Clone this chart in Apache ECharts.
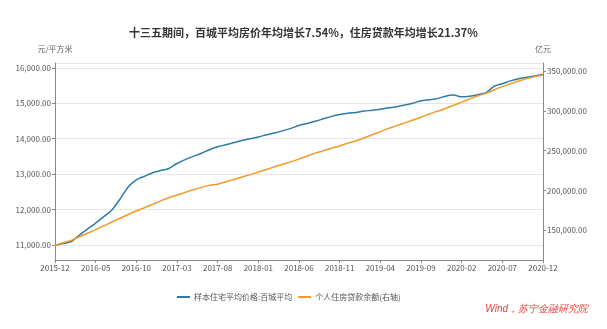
<!DOCTYPE html>
<html><head><meta charset="utf-8">
<script src="https://cdn.jsdelivr.net/npm/echarts@6/dist/echarts.min.js"></script>
<style>html,body{margin:0;padding:0;background:#fff}#c{width:607px;height:329px}</style>
</head><body><div id="c"></div>
<script>
const titleText = '十三五期间，百城平均房价年均增长7.54%，住房贷款年均增长21.37%';
const seriesNames = ['样本住宅平均价格:百城平均', '个人住房贷款余额(右轴)'];
const leftUnit = '元/平方米';
const rightUnit = '亿元';
const sourceText = 'Wind，苏宁金融研究院';

// months 2015-12 .. 2020-12
const months = [];
for (let y = 2015, m = 12; y < 2020 || (y === 2020 && m <= 12); ) {
  months.push(y + '-' + (m < 10 ? '0' + m : '' + m));
  m++; if (m > 12) { m = 1; y++; }
}

const housePrice = [
  10990, 11040, 11100, 11280, 11450, 11620, 11800, 11990, 12300, 12640,
  12840, 12940, 13040, 13100, 13160, 13300, 13410, 13500, 13590, 13690,
  13770, 13830, 13890, 13950, 14000, 14050, 14110, 14160, 14220, 14290,
  14370, 14430, 14490, 14560, 14630, 14680, 14720, 14740, 14780, 14800,
  14830, 14870, 14900, 14950, 15000, 15070, 15100, 15130, 15200, 15230,
  15180, 15200, 15240, 15300, 15480, 15550, 15630, 15690, 15730, 15770,
  15810
];
const loanBalance = [
  131000, 134500, 137500, 142000, 146500, 151000, 155600, 160500, 165200, 170000,
  174400, 178500, 182700, 187000, 191000, 194500, 197700, 201000, 204000, 206500,
  208000, 211000, 214000, 217000, 220000, 223200, 226500, 229800, 233000, 236000,
  239500, 243300, 247000, 250000, 253000, 256000, 259500, 262500, 266000, 270000,
  274000, 278000, 281500, 285000, 288500, 292000, 296000, 299500, 303000, 307000,
  311000, 315000, 319000, 322000, 326500, 330500, 334000, 337500, 340500, 343000,
  345000
];

const FONT = '"Noto Sans CJK SC", "Noto Sans", sans-serif';
const fmt = v => v.toLocaleString('en-US', {minimumFractionDigits: 2, maximumFractionDigits: 2});

const chart = echarts.init(document.getElementById('c'));
chart.setOption({
  animation: false,
  textStyle: {fontFamily: FONT},
  title: {
    text: titleText, left: 'center', top: 22,
    textStyle: {fontSize: 11, fontWeight: 'bold', color: '#333', fontFamily: FONT}
  },
  graphic: [{
    type: 'text', right: 19, top: 304,
    style: {text: sourceText, fill: '#e8413c', fontSize: 10, fontStyle: 'italic', font: 'italic 10px ' + FONT}
  }],
  legend: {
    left: 172, top: 288, itemWidth: 13, itemHeight: 2, itemGap: 6, icon: 'rect',
    textStyle: {fontSize: 8, color: '#555', padding: [0, 0, 0, -1]},
    data: seriesNames
  },
  grid: {left: 55, right: 64, top: 63, bottom: 69, containLabel: false},
  xAxis: {
    type: 'category', data: months, boundaryGap: false,
    axisLine: {lineStyle: {color: '#888'}},
    axisTick: {show: true, interval: 4, length: 3, lineStyle: {color: '#888'}},
    axisLabel: {interval: 4, fontSize: 8, color: '#555', margin: 4}
  },
  yAxis: [{
    type: 'value', min: 10578, max: 16135, minInterval: 1000, maxInterval: 1000,
    name: leftUnit, nameLocation: 'end', nameGap: 10,
    nameTextStyle: {fontSize: 8, color: '#666', align: 'center'},
    axisLine: {show: true, lineStyle: {color: '#888'}},
    axisTick: {show: true, length: 3, lineStyle: {color: '#888'}},
    axisLabel: {fontSize: 8, color: '#555', margin: 4, showMinLabel: false, showMaxLabel: false, formatter: fmt},
    splitLine: {show: true, lineStyle: {color: '#e6e6e6'}}
  }, {
    type: 'value', position: 'right', min: 112850, max: 360100, minInterval: 50000, maxInterval: 50000,
    alignTicks: false,
    name: rightUnit, nameLocation: 'end', nameGap: 10,
    nameTextStyle: {fontSize: 8, color: '#666', align: 'center'},
    axisLine: {show: true, lineStyle: {color: '#888'}},
    axisTick: {show: true, length: 3, lineStyle: {color: '#888'}},
    axisLabel: {fontSize: 8, color: '#555', margin: 4, showMinLabel: false, showMaxLabel: false, formatter: fmt},
    splitLine: {show: false}
  }],
  series: [{
    name: seriesNames[0], type: 'line', yAxisIndex: 0, data: housePrice,
    symbol: 'none', smooth: 0.3, lineStyle: {width: 1.5, color: '#2f7ba6'}, itemStyle: {color: '#2f7ba6'}
  }, {
    name: seriesNames[1], type: 'line', yAxisIndex: 1, data: loanBalance,
    symbol: 'none', smooth: 0.3, lineStyle: {width: 1.5, color: '#f39a2b'}, itemStyle: {color: '#f39a2b'}
  }]
});
</script></body></html>
